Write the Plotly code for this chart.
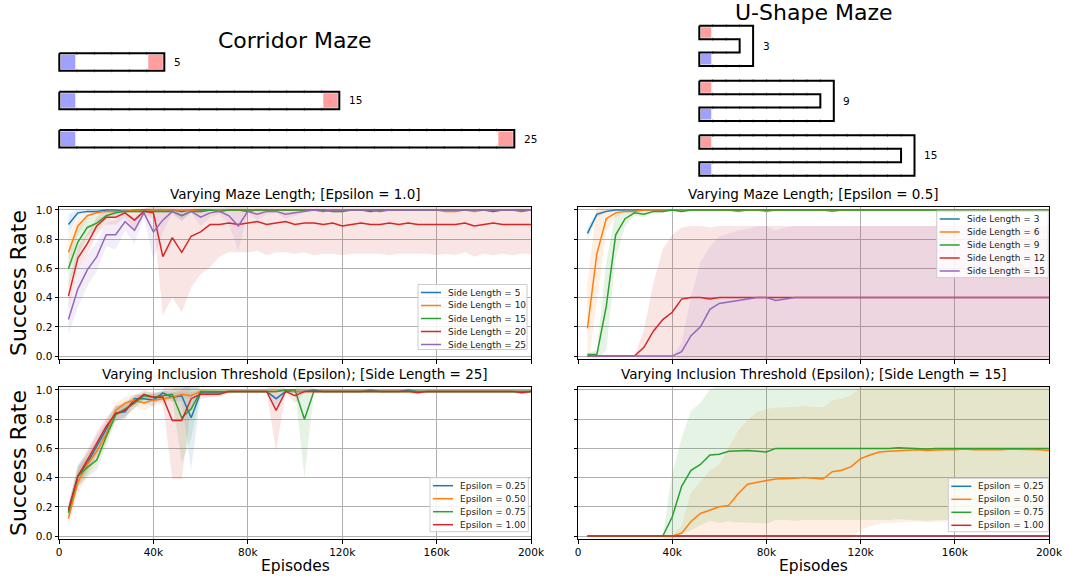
import plotly.graph_objects as go

W, H = 1068, 579
FONT = "DejaVu Sans"

# ---------------- data ----------------
episodes_k = [4, 8, 12, 16, 20, 24, 28, 32, 36, 40,
              44, 48, 52, 56, 60, 64, 68, 72, 76, 80,
              84, 88, 92, 96, 100, 104, 108, 112, 116, 120,
              124, 128, 132, 136, 140, 144, 148, 152, 156, 160,
              164, 168, 172, 176, 180, 184, 188, 192, 196, 200]
episodes = [e * 1000 for e in episodes_k]

x_tick_vals = [0, 40000, 80000, 120000, 160000, 200000]
x_tick_text = ["0", "40k", "80k", "120k", "160k", "200k"]
y_tick_vals = [0.0, 0.2, 0.4, 0.6, 0.8, 1.0]
y_tick_text = ["0.0", "0.2", "0.4", "0.6", "0.8", "1.0"]

corridor_lengths = [5, 15, 25]
ushape_lengths = [3, 9, 15]

# Panel A: Corridor, varying maze length, epsilon = 1.0
corr_labels = ["Side Length = 5", "Side Length = 10", "Side Length = 15",
               "Side Length = 20", "Side Length = 25"]
corr_sl5 = [
    0.90, 0.98, 0.99, 0.99, 1.00, 1.00, 0.99, 1.00, 1.00, 1.00,
    1.00, 1.00, 0.99, 1.00, 1.00, 1.00, 1.00, 1.00, 1.00, 0.99,
    1.00, 1.00, 1.00, 1.00, 1.00, 1.00, 1.00, 1.00, 1.00, 1.00,
    1.00, 1.00, 0.99, 1.00, 1.00, 1.00, 1.00, 1.00, 1.00, 1.00,
    1.00, 1.00, 1.00, 1.00, 1.00, 0.99, 1.00, 1.00, 1.00, 1.00]
corr_sl5_sd = [
    0.07, 0.02, 0.01, 0.01, 0.00, 0.00, 0.01, 0.00, 0.00, 0.00,
    0.00, 0.00, 0.01, 0.00, 0.00, 0.00, 0.00, 0.00, 0.00, 0.01,
    0.00, 0.00, 0.00, 0.00, 0.00, 0.00, 0.00, 0.00, 0.00, 0.00,
    0.00, 0.00, 0.01, 0.00, 0.00, 0.00, 0.00, 0.00, 0.00, 0.00,
    0.00, 0.00, 0.00, 0.00, 0.00, 0.01, 0.00, 0.00, 0.00, 0.00]
corr_sl10 = [
    0.71, 0.89, 0.96, 0.98, 0.99, 0.99, 0.99, 1.00, 0.99, 1.00,
    1.00, 1.00, 1.00, 1.00, 0.99, 1.00, 1.00, 1.00, 1.00, 1.00,
    1.00, 1.00, 1.00, 1.00, 1.00, 1.00, 1.00, 1.00, 1.00, 1.00,
    1.00, 1.00, 1.00, 1.00, 1.00, 1.00, 1.00, 1.00, 1.00, 1.00,
    0.99, 0.99, 1.00, 0.99, 1.00, 1.00, 1.00, 1.00, 1.00, 1.00]
corr_sl10_sd = [
    0.10, 0.06, 0.03, 0.02, 0.01, 0.01, 0.01, 0.00, 0.01, 0.00,
    0.00, 0.00, 0.00, 0.00, 0.01, 0.00, 0.00, 0.00, 0.00, 0.00,
    0.00, 0.00, 0.00, 0.00, 0.00, 0.00, 0.00, 0.00, 0.00, 0.00,
    0.00, 0.00, 0.00, 0.00, 0.00, 0.00, 0.00, 0.00, 0.00, 0.00,
    0.01, 0.01, 0.00, 0.01, 0.00, 0.00, 0.00, 0.00, 0.00, 0.00]
corr_sl15 = [
    0.60, 0.78, 0.88, 0.91, 0.96, 0.98, 0.99, 0.99, 0.99, 0.99,
    0.99, 0.99, 0.96, 0.99, 0.99, 1.00, 0.99, 1.00, 1.00, 1.00,
    1.00, 1.00, 1.00, 1.00, 1.00, 1.00, 1.00, 1.00, 0.99, 0.99,
    1.00, 1.00, 1.00, 1.00, 1.00, 1.00, 1.00, 1.00, 1.00, 1.00,
    1.00, 1.00, 1.00, 1.00, 1.00, 1.00, 1.00, 1.00, 1.00, 1.00]
corr_sl15_sd = [
    0.12, 0.10, 0.06, 0.05, 0.03, 0.02, 0.01, 0.01, 0.01, 0.01,
    0.01, 0.01, 0.03, 0.01, 0.01, 0.00, 0.01, 0.00, 0.00, 0.00,
    0.00, 0.00, 0.00, 0.00, 0.00, 0.00, 0.00, 0.00, 0.01, 0.01,
    0.00, 0.00, 0.00, 0.00, 0.00, 0.00, 0.00, 0.00, 0.00, 0.00,
    0.00, 0.00, 0.00, 0.00, 0.00, 0.00, 0.00, 0.00, 0.00, 0.00]
corr_sl20 = [
    0.41, 0.67, 0.77, 0.89, 0.95, 0.95, 0.98, 0.93, 0.99, 0.98,
    0.68, 0.81, 0.71, 0.82, 0.85, 0.90, 0.90, 0.91, 0.90, 0.91,
    0.92, 0.90, 0.91, 0.92, 0.90, 0.91, 0.91, 0.90, 0.91, 0.89,
    0.90, 0.91, 0.90, 0.90, 0.91, 0.90, 0.91, 0.90, 0.90, 0.90,
    0.90, 0.90, 0.91, 0.89, 0.90, 0.91, 0.90, 0.90, 0.90, 0.90]
corr_sl20_sd = [
    0.08, 0.08, 0.07, 0.06, 0.05, 0.05, 0.03, 0.06, 0.02, 0.04,
    0.40, 0.41, 0.41, 0.35, 0.29, 0.29, 0.22, 0.20, 0.19, 0.20,
    0.20, 0.21, 0.20, 0.21, 0.20, 0.20, 0.22, 0.20, 0.21, 0.20,
    0.20, 0.21, 0.20, 0.20, 0.22, 0.20, 0.21, 0.20, 0.20, 0.21,
    0.20, 0.21, 0.20, 0.21, 0.20, 0.22, 0.20, 0.21, 0.20, 0.20]
corr_sl25 = [
    0.25, 0.46, 0.59, 0.68, 0.83, 0.83, 0.92, 0.86, 0.98, 0.85,
    0.93, 0.99, 0.96, 0.99, 0.95, 0.98, 0.99, 0.96, 0.89, 0.99,
    0.97, 0.99, 0.99, 0.97, 0.98, 0.99, 1.00, 0.99, 1.00, 1.00,
    1.00, 1.00, 1.00, 0.99, 1.00, 1.00, 1.00, 1.00, 1.00, 1.00,
    1.00, 1.00, 1.00, 1.00, 1.00, 1.00, 1.00, 1.00, 0.99, 1.00]
corr_sl25_sd = [
    0.10, 0.13, 0.11, 0.10, 0.08, 0.10, 0.06, 0.09, 0.03, 0.19,
    0.08, 0.02, 0.04, 0.01, 0.06, 0.03, 0.02, 0.06, 0.17, 0.01,
    0.04, 0.02, 0.01, 0.03, 0.02, 0.01, 0.00, 0.01, 0.00, 0.00,
    0.00, 0.00, 0.00, 0.01, 0.00, 0.00, 0.00, 0.00, 0.00, 0.00,
    0.00, 0.00, 0.00, 0.00, 0.00, 0.00, 0.00, 0.00, 0.01, 0.00]

# Panel B: U-shape, varying maze length, epsilon = 0.5
ush_labels = ["Side Length = 3", "Side Length = 6", "Side Length = 9",
              "Side Length = 12", "Side Length = 15"]
ush_sl3 = [
    0.84, 0.97, 0.99, 1.00, 1.00, 1.00, 1.00, 1.00, 1.00, 1.00,
    1.00, 1.00, 1.00, 1.00, 1.00, 1.00, 1.00, 1.00, 1.00, 1.00,
    1.00, 1.00, 1.00, 1.00, 1.00, 1.00, 1.00, 1.00, 1.00, 1.00,
    1.00, 1.00, 1.00, 1.00, 1.00, 1.00, 1.00, 1.00, 1.00, 1.00,
    1.00, 1.00, 1.00, 1.00, 1.00, 1.00, 1.00, 1.00, 1.00, 1.00]
ush_sl3_sd = [
    0.04, 0.02, 0.01, 0.00, 0.00, 0.00, 0.00, 0.00, 0.00, 0.00,
    0.00, 0.00, 0.00, 0.00, 0.00, 0.00, 0.00, 0.00, 0.00, 0.00,
    0.00, 0.00, 0.00, 0.00, 0.00, 0.00, 0.00, 0.00, 0.00, 0.00,
    0.00, 0.00, 0.00, 0.00, 0.00, 0.00, 0.00, 0.00, 0.00, 0.00,
    0.00, 0.00, 0.00, 0.00, 0.00, 0.00, 0.00, 0.00, 0.00, 0.00]
ush_sl6 = [
    0.19, 0.70, 0.94, 0.98, 0.99, 0.99, 1.00, 1.00, 1.00, 1.00,
    1.00, 1.00, 1.00, 1.00, 1.00, 1.00, 0.99, 1.00, 1.00, 0.99,
    1.00, 1.00, 1.00, 1.00, 1.00, 1.00, 0.99, 1.00, 1.00, 1.00,
    1.00, 1.00, 1.00, 1.00, 1.00, 1.00, 1.00, 1.00, 1.00, 1.00,
    1.00, 1.00, 1.00, 1.00, 1.00, 1.00, 1.00, 1.00, 1.00, 1.00]
ush_sl6_sd = [
    0.30, 0.33, 0.08, 0.03, 0.01, 0.01, 0.00, 0.00, 0.00, 0.00,
    0.00, 0.00, 0.00, 0.00, 0.00, 0.00, 0.01, 0.00, 0.00, 0.01,
    0.00, 0.00, 0.00, 0.00, 0.00, 0.00, 0.01, 0.00, 0.00, 0.00,
    0.00, 0.00, 0.00, 0.00, 0.00, 0.00, 0.00, 0.00, 0.00, 0.00,
    0.00, 0.00, 0.00, 0.00, 0.00, 0.00, 0.00, 0.00, 0.00, 0.00]
ush_sl9 = [
    0.01, 0.01, 0.34, 0.83, 0.94, 0.98, 0.97, 0.99, 0.99, 1.00,
    0.99, 1.00, 1.00, 1.00, 1.00, 1.00, 1.00, 1.00, 1.00, 1.00,
    1.00, 1.00, 1.00, 1.00, 1.00, 1.00, 1.00, 1.00, 1.00, 1.00,
    1.00, 1.00, 1.00, 1.00, 1.00, 1.00, 1.00, 1.00, 1.00, 1.00,
    1.00, 1.00, 1.00, 1.00, 1.00, 1.00, 1.00, 1.00, 1.00, 1.00]
ush_sl9_sd = [
    0.01, 0.03, 0.30, 0.16, 0.05, 0.02, 0.02, 0.01, 0.01, 0.00,
    0.01, 0.00, 0.00, 0.00, 0.00, 0.00, 0.00, 0.00, 0.00, 0.00,
    0.00, 0.00, 0.00, 0.00, 0.00, 0.00, 0.00, 0.00, 0.00, 0.00,
    0.00, 0.00, 0.00, 0.00, 0.00, 0.00, 0.00, 0.00, 0.00, 0.00,
    0.00, 0.00, 0.00, 0.00, 0.00, 0.00, 0.00, 0.00, 0.00, 0.00]
ush_sl12 = [
    0.00, 0.00, 0.00, 0.00, 0.00, 0.00, 0.06, 0.17, 0.25, 0.30,
    0.39, 0.40, 0.40, 0.39, 0.40, 0.40, 0.40, 0.40, 0.40, 0.40,
    0.40, 0.40, 0.40, 0.40, 0.40, 0.40, 0.40, 0.40, 0.40, 0.40,
    0.40, 0.40, 0.40, 0.40, 0.40, 0.40, 0.40, 0.40, 0.40, 0.40,
    0.40, 0.40, 0.40, 0.40, 0.40, 0.40, 0.40, 0.40, 0.40, 0.40]
ush_sl12_sd = [
    0.00, 0.00, 0.00, 0.00, 0.00, 0.00, 0.12, 0.33, 0.48, 0.53,
    0.49, 0.49, 0.49, 0.49, 0.49, 0.49, 0.49, 0.49, 0.49, 0.49,
    0.49, 0.49, 0.49, 0.49, 0.49, 0.49, 0.49, 0.49, 0.49, 0.49,
    0.49, 0.49, 0.49, 0.49, 0.49, 0.49, 0.49, 0.49, 0.49, 0.49,
    0.49, 0.49, 0.49, 0.49, 0.49, 0.49, 0.49, 0.49, 0.49, 0.49]
ush_sl15 = [
    0.00, 0.00, 0.00, 0.00, 0.00, 0.00, 0.00, 0.00, 0.00, 0.00,
    0.03, 0.14, 0.20, 0.32, 0.36, 0.37, 0.38, 0.39, 0.40, 0.40,
    0.38, 0.39, 0.40, 0.40, 0.40, 0.40, 0.40, 0.40, 0.40, 0.40,
    0.40, 0.40, 0.40, 0.40, 0.40, 0.40, 0.40, 0.40, 0.40, 0.40,
    0.40, 0.40, 0.40, 0.40, 0.40, 0.40, 0.40, 0.40, 0.40, 0.40]
ush_sl15_sd = [
    0.00, 0.00, 0.00, 0.00, 0.00, 0.00, 0.00, 0.00, 0.00, 0.00,
    0.06, 0.27, 0.44, 0.43, 0.46, 0.47, 0.48, 0.48, 0.49, 0.49,
    0.48, 0.49, 0.49, 0.49, 0.49, 0.49, 0.49, 0.49, 0.49, 0.49,
    0.49, 0.49, 0.49, 0.49, 0.49, 0.49, 0.49, 0.49, 0.49, 0.49,
    0.49, 0.49, 0.49, 0.49, 0.49, 0.49, 0.49, 0.49, 0.49, 0.49]

# Panel C: Corridor, side length 25, varying epsilon
eps_labels = ["Epsilon = 0.25", "Epsilon = 0.50", "Epsilon = 0.75", "Epsilon = 1.00"]
ce_e025 = [
    0.17, 0.41, 0.50, 0.62, 0.73, 0.84, 0.85, 0.94, 0.94, 0.93,
    0.98, 0.95, 0.96, 0.81, 0.98, 0.98, 0.98, 0.99, 0.99, 0.99,
    0.99, 0.99, 0.94, 0.99, 0.99, 0.99, 1.00, 0.99, 0.99, 0.99,
    0.99, 0.99, 1.00, 0.99, 0.99, 0.99, 1.00, 0.99, 0.99, 0.99,
    0.99, 0.99, 0.99, 0.99, 0.99, 0.99, 0.99, 0.99, 0.99, 0.99]
ce_e025_sd = [
    0.05, 0.08, 0.07, 0.07, 0.06, 0.05, 0.05, 0.03, 0.03, 0.04,
    0.02, 0.03, 0.04, 0.35, 0.02, 0.02, 0.01, 0.01, 0.01, 0.01,
    0.01, 0.01, 0.05, 0.01, 0.01, 0.01, 0.00, 0.01, 0.01, 0.01,
    0.01, 0.01, 0.00, 0.01, 0.01, 0.01, 0.00, 0.01, 0.01, 0.01,
    0.01, 0.01, 0.01, 0.01, 0.01, 0.01, 0.01, 0.01, 0.01, 0.01]
ce_e050 = [
    0.12, 0.37, 0.49, 0.58, 0.70, 0.86, 0.91, 0.93, 0.91, 0.93,
    0.94, 0.95, 0.97, 0.96, 0.99, 0.99, 0.99, 0.99, 0.99, 0.99,
    0.99, 0.99, 0.99, 1.00, 0.99, 0.99, 0.99, 0.99, 0.99, 0.99,
    0.99, 0.99, 0.99, 0.99, 0.99, 0.99, 0.99, 0.99, 0.99, 0.99,
    0.99, 0.99, 0.99, 0.99, 0.99, 0.99, 0.99, 0.99, 0.99, 0.99]
ce_e050_sd = [
    0.04, 0.08, 0.08, 0.08, 0.07, 0.05, 0.04, 0.04, 0.05, 0.04,
    0.03, 0.03, 0.02, 0.02, 0.01, 0.01, 0.01, 0.01, 0.01, 0.01,
    0.01, 0.01, 0.01, 0.00, 0.01, 0.01, 0.01, 0.01, 0.01, 0.01,
    0.01, 0.01, 0.01, 0.01, 0.01, 0.01, 0.01, 0.01, 0.01, 0.01,
    0.01, 0.01, 0.01, 0.01, 0.01, 0.01, 0.01, 0.01, 0.01, 0.01]
ce_e075 = [
    0.16, 0.41, 0.47, 0.52, 0.68, 0.83, 0.87, 0.91, 0.96, 0.95,
    0.96, 0.97, 0.81, 0.87, 0.99, 0.99, 0.99, 0.99, 0.99, 0.99,
    0.99, 0.99, 0.99, 1.00, 1.00, 0.80, 0.99, 0.99, 0.99, 0.99,
    0.99, 0.99, 0.99, 0.99, 0.99, 0.99, 0.99, 0.99, 0.99, 0.99,
    0.99, 0.99, 0.99, 0.99, 0.99, 0.99, 0.99, 0.99, 0.99, 0.99]
ce_e075_sd = [
    0.04, 0.07, 0.07, 0.07, 0.06, 0.05, 0.05, 0.04, 0.03, 0.03,
    0.03, 0.03, 0.31, 0.20, 0.01, 0.01, 0.01, 0.01, 0.01, 0.01,
    0.01, 0.01, 0.01, 0.00, 0.00, 0.40, 0.01, 0.01, 0.01, 0.01,
    0.01, 0.01, 0.01, 0.01, 0.01, 0.01, 0.01, 0.01, 0.01, 0.01,
    0.01, 0.01, 0.01, 0.01, 0.01, 0.01, 0.01, 0.01, 0.01, 0.01]
ce_e100 = [
    0.18, 0.41, 0.52, 0.64, 0.75, 0.84, 0.86, 0.92, 0.97, 0.95,
    0.95, 0.79, 0.79, 0.94, 0.97, 0.97, 0.97, 0.99, 0.99, 0.99,
    0.99, 0.99, 0.86, 0.99, 0.96, 0.99, 0.99, 0.99, 0.99, 0.99,
    0.99, 0.99, 0.99, 0.99, 0.99, 0.99, 0.99, 0.98, 0.99, 0.99,
    0.99, 0.99, 0.99, 0.99, 0.99, 0.99, 0.99, 0.99, 0.98, 0.99]
ce_e100_sd = [
    0.04, 0.06, 0.07, 0.07, 0.06, 0.05, 0.05, 0.04, 0.03, 0.03,
    0.04, 0.40, 0.40, 0.05, 0.03, 0.02, 0.02, 0.01, 0.01, 0.01,
    0.01, 0.01, 0.28, 0.01, 0.05, 0.01, 0.01, 0.01, 0.01, 0.01,
    0.01, 0.01, 0.01, 0.01, 0.01, 0.01, 0.01, 0.01, 0.01, 0.01,
    0.01, 0.01, 0.01, 0.01, 0.01, 0.01, 0.01, 0.01, 0.01, 0.01]

# Panel D: U-shape, side length 15, varying epsilon
ue_e025 = [
    0.00, 0.00, 0.00, 0.00, 0.00, 0.00, 0.00, 0.00, 0.00, 0.00,
    0.00, 0.00, 0.00, 0.00, 0.00, 0.00, 0.00, 0.00, 0.00, 0.00,
    0.00, 0.00, 0.00, 0.00, 0.00, 0.00, 0.00, 0.00, 0.00, 0.00,
    0.00, 0.00, 0.00, 0.00, 0.00, 0.00, 0.00, 0.00, 0.00, 0.00,
    0.00, 0.00, 0.00, 0.00, 0.00, 0.00, 0.00, 0.00, 0.00, 0.00]
ue_e025_sd = [
    0.00, 0.00, 0.00, 0.00, 0.00, 0.00, 0.00, 0.00, 0.00, 0.00,
    0.00, 0.00, 0.00, 0.00, 0.00, 0.00, 0.00, 0.00, 0.00, 0.00,
    0.00, 0.00, 0.00, 0.00, 0.00, 0.00, 0.00, 0.00, 0.00, 0.00,
    0.00, 0.00, 0.00, 0.00, 0.00, 0.00, 0.00, 0.00, 0.00, 0.00,
    0.00, 0.00, 0.00, 0.00, 0.00, 0.00, 0.00, 0.00, 0.00, 0.00]
ue_e050 = [
    0.00, 0.00, 0.00, 0.00, 0.00, 0.00, 0.00, 0.00, 0.00, 0.00,
    0.02, 0.10, 0.155, 0.18, 0.20, 0.21, 0.29, 0.355, 0.37, 0.38,
    0.39, 0.39, 0.395, 0.40, 0.395, 0.39, 0.44, 0.45, 0.475, 0.53,
    0.555, 0.575, 0.58, 0.585, 0.59, 0.59, 0.585, 0.59, 0.59, 0.59,
    0.595, 0.59, 0.59, 0.585, 0.59, 0.595, 0.595, 0.59, 0.59, 0.585]
ue_e050_sd = [
    0.00, 0.00, 0.00, 0.00, 0.00, 0.00, 0.00, 0.00, 0.00, 0.00,
    0.05, 0.20, 0.22, 0.27, 0.29, 0.39, 0.43, 0.44, 0.48, 0.49,
    0.49, 0.49, 0.49, 0.49, 0.49, 0.49, 0.49, 0.49, 0.49, 0.49,
    0.49, 0.49, 0.49, 0.49, 0.49, 0.49, 0.49, 0.49, 0.49, 0.49,
    0.49, 0.49, 0.49, 0.49, 0.49, 0.49, 0.49, 0.49, 0.49, 0.49]
ue_e075 = [
    0.00, 0.00, 0.00, 0.00, 0.00, 0.00, 0.00, 0.00, 0.00, 0.13,
    0.34, 0.45, 0.49, 0.555, 0.56, 0.58, 0.585, 0.585, 0.58, 0.575,
    0.60, 0.60, 0.595, 0.60, 0.60, 0.60, 0.60, 0.60, 0.595, 0.60,
    0.60, 0.60, 0.60, 0.605, 0.60, 0.595, 0.595, 0.60, 0.60, 0.60,
    0.60, 0.60, 0.60, 0.60, 0.60, 0.60, 0.595, 0.60, 0.595, 0.60]
ue_e075_sd = [
    0.00, 0.00, 0.00, 0.00, 0.00, 0.00, 0.00, 0.00, 0.00, 0.30,
    0.33, 0.41, 0.42, 0.45, 0.47, 0.48, 0.49, 0.49, 0.49, 0.49,
    0.49, 0.49, 0.49, 0.49, 0.49, 0.49, 0.49, 0.49, 0.49, 0.49,
    0.49, 0.49, 0.49, 0.49, 0.49, 0.49, 0.49, 0.49, 0.49, 0.49,
    0.49, 0.49, 0.49, 0.49, 0.49, 0.49, 0.49, 0.49, 0.49, 0.49]
ue_e100 = [
    0.00, 0.00, 0.00, 0.00, 0.00, 0.00, 0.00, 0.00, 0.00, 0.00,
    0.00, 0.00, 0.00, 0.00, 0.00, 0.00, 0.00, 0.00, 0.00, 0.00,
    0.00, 0.00, 0.00, 0.00, 0.00, 0.00, 0.00, 0.00, 0.00, 0.00,
    0.00, 0.00, 0.00, 0.00, 0.00, 0.00, 0.00, 0.00, 0.00, 0.00,
    0.00, 0.00, 0.00, 0.00, 0.00, 0.00, 0.00, 0.00, 0.00, 0.00]
ue_e100_sd = [
    0.00, 0.00, 0.00, 0.00, 0.00, 0.00, 0.00, 0.00, 0.00, 0.00,
    0.00, 0.00, 0.00, 0.00, 0.00, 0.00, 0.00, 0.00, 0.00, 0.00,
    0.00, 0.00, 0.00, 0.00, 0.00, 0.00, 0.00, 0.00, 0.00, 0.00,
    0.00, 0.00, 0.00, 0.00, 0.00, 0.00, 0.00, 0.00, 0.00, 0.00,
    0.00, 0.00, 0.00, 0.00, 0.00, 0.00, 0.00, 0.00, 0.00, 0.00]

# ---------------- styles ----------------
C_BLUE, C_ORANGE, C_GREEN, C_RED, C_PURPLE = "#1f77b4", "#ff7f0e", "#2ca02c", "#d62728", "#9467bd"
FILL_ALPHA = 0.12


def rgba(h, a):
    h = h.lstrip("#")
    return "rgba(%d,%d,%d,%s)" % (int(h[0:2], 16), int(h[2:4], 16), int(h[4:6], 16), a)


def px_x(px):
    return px / W


def px_y(py):
    return 1 - py / H


panels = [
    dict(xa="x", ya="y", xpx=(59, 531), ypx=(207, 359), xlabels=False, ylabels=True,
         title="Varying Maze Length; [Epsilon = 1.0]",
         series=[(corr_labels[0], corr_sl5, corr_sl5_sd, C_BLUE),
                 (corr_labels[1], corr_sl10, corr_sl10_sd, C_ORANGE),
                 (corr_labels[2], corr_sl15, corr_sl15_sd, C_GREEN),
                 (corr_labels[3], corr_sl20, corr_sl20_sd, C_RED),
                 (corr_labels[4], corr_sl25, corr_sl25_sd, C_PURPLE)],
         legend_box=(418, 284.5, 527, 349.5)),
    dict(xa="x2", ya="y2", xpx=(578, 1049), ypx=(207, 359), xlabels=False, ylabels=False,
         title="Varying Maze Length; [Epsilon = 0.5]",
         series=[(ush_labels[0], ush_sl3, ush_sl3_sd, C_BLUE),
                 (ush_labels[1], ush_sl6, ush_sl6_sd, C_ORANGE),
                 (ush_labels[2], ush_sl9, ush_sl9_sd, C_GREEN),
                 (ush_labels[3], ush_sl12, ush_sl12_sd, C_RED),
                 (ush_labels[4], ush_sl15, ush_sl15_sd, C_PURPLE)],
         legend_box=(936.7, 211, 1048.3, 277.7)),
    dict(xa="x3", ya="y3", xpx=(59, 531), ypx=(387, 539), xlabels=True, ylabels=True,
         title="Varying Inclusion Threshold (Epsilon); [Side Length = 25]",
         series=[(eps_labels[0], ce_e025, ce_e025_sd, C_BLUE),
                 (eps_labels[1], ce_e050, ce_e050_sd, C_ORANGE),
                 (eps_labels[2], ce_e075, ce_e075_sd, C_GREEN),
                 (eps_labels[3], ce_e100, ce_e100_sd, C_RED)],
         legend_box=(430, 477.7, 528.3, 531.7)),
    dict(xa="x4", ya="y4", xpx=(578, 1049), ypx=(387, 539), xlabels=True, ylabels=False,
         title="Varying Inclusion Threshold (Epsilon); [Side Length = 15]",
         series=[(eps_labels[0], ue_e025, ue_e025_sd, C_BLUE),
                 (eps_labels[1], ue_e050, ue_e050_sd, C_ORANGE),
                 (eps_labels[2], ue_e075, ue_e075_sd, C_GREEN),
                 (eps_labels[3], ue_e100, ue_e100_sd, C_RED)],
         legend_box=(948.3, 478.3, 1048.3, 531.7)),
]

for p in panels:
    for s in p["series"]:
        assert len(s[1]) == len(episodes) and len(s[2]) == len(episodes), s[0]

fig = go.Figure()
shapes = []
annotations = []

for p in panels:
    # bands
    for label, mean, sd, color in p["series"]:
        lo = [m - s for m, s in zip(mean, sd)]
        hi = [m + s for m, s in zip(mean, sd)]
        fig.add_trace(go.Scatter(x=episodes, y=lo, mode="lines", line=dict(width=0, color=color),
                                 xaxis=p["xa"], yaxis=p["ya"], hoverinfo="skip", showlegend=False))
        fig.add_trace(go.Scatter(x=episodes, y=hi, mode="lines", line=dict(width=0, color=color),
                                 fill="tonexty", fillcolor=rgba(color, FILL_ALPHA),
                                 xaxis=p["xa"], yaxis=p["ya"], hoverinfo="skip", showlegend=False))
    # mean lines
    for label, mean, sd, color in p["series"]:
        fig.add_trace(go.Scatter(x=episodes, y=mean, mode="lines", name=label,
                                 line=dict(width=1.5, color=color),
                                 xaxis=p["xa"], yaxis=p["ya"], showlegend=False))

    # subplot title
    cx = (p["xpx"][0] + p["xpx"][1]) / 2
    annotations.append(dict(text=p["title"], x=px_x(cx), y=px_y(p["ypx"][0] - 13),
                            xref="paper", yref="paper", showarrow=False,
                            xanchor="center", yanchor="middle",
                            font=dict(family=FONT, size=13.5, color="black")))
    if p["ylabels"]:
        cy = (p["ypx"][0] + p["ypx"][1]) / 2
        annotations.append(dict(text="Success Rate", x=px_x(18), y=px_y(cy),
                                xref="paper", yref="paper", showarrow=False, textangle=-90,
                                xanchor="center", yanchor="middle",
                                font=dict(family=FONT, size=22, color="black")))
    if p["xlabels"]:
        annotations.append(dict(text="Episodes", x=px_x(cx), y=px_y(566),
                                xref="paper", yref="paper", showarrow=False,
                                xanchor="center", yanchor="middle",
                                font=dict(family=FONT, size=15.5, color="black")))

    # legend (matplotlib-like compact box)
    bx0, by0, bx1, by1 = p["legend_box"]
    shapes.append(dict(type="rect", xref="paper", yref="paper",
                       x0=px_x(bx0), x1=px_x(bx1), y0=px_y(by1), y1=px_y(by0),
                       fillcolor="rgba(255,255,255,0.85)", line=dict(color="#cccccc", width=1),
                       layer="above"))
    for k, (label, mean, sd, color) in enumerate(p["series"]):
        ry = by0 + 8 + 13 * k
        shapes.append(dict(type="line", xref="paper", yref="paper",
                           x0=px_x(bx0 + 3), x1=px_x(bx0 + 23), y0=px_y(ry), y1=px_y(ry),
                           line=dict(color=color, width=1.5), layer="above"))
        annotations.append(dict(text=label, x=px_x(bx0 + 28), y=px_y(ry),
                                xref="paper", yref="paper", showarrow=False,
                                xanchor="left", yanchor="middle",
                                font=dict(family=FONT, size=9, color="#222222")))

# ---------------- maze diagrams (pixel-scaled hidden axis) ----------------
TOP_H = 180
CORR_X0, CORR_CELL = 59.3, 17.5
CORR_TOPS = [53.3, 91.7, 130.0]
U_X0, U_CELL = 699.3, 13.45
U_TOPS = [25.7, 80.7, 135.3]
START_COLOR = "#a0a0ff"
GOAL_COLOR = "#ff9e9e"
INSET = 1.5


def cell_poly(xs, ys, col, row, x0, y0, c):
    a, b = x0 + col * c + INSET, x0 + (col + 1) * c - INSET
    t, u = y0 + row * c + INSET, y0 + (row + 1) * c - INSET
    xs += [a, b, b, a, a, None]
    ys += [t, t, u, u, t, None]


def add_tick(xs, ys, x, y):
    xs += [x, x, None]
    ys += [y - 1.5, y + 1.5, None]


start_x, start_y, goal_x, goal_y = [], [], [], []
out_x, out_y, tick_x, tick_y = [], [], [], []

for L, top in zip(corridor_lengths, CORR_TOPS):
    c = CORR_CELL
    x0, x1 = CORR_X0, CORR_X0 + (L + 1) * c
    y0, y1 = top, top + c
    cell_poly(start_x, start_y, 0, 0, x0, y0, c)
    cell_poly(goal_x, goal_y, L, 0, x0, y0, c)
    out_x += [x0, x1, x1, x0, x0, None]
    out_y += [y0, y0, y1, y1, y0, None]
    for k in range(1, L + 1):
        add_tick(tick_x, tick_y, x0 + k * c, y0)
        add_tick(tick_x, tick_y, x0 + k * c, y1)
    annotations.append(dict(text=str(L), x=x1 + 7.5, y=(y0 + y1) / 2, xref="x5", yref="y5",
                            showarrow=False, xanchor="left", yanchor="middle",
                            font=dict(family=FONT, size=10.5, color="black")))

for L, top in zip(ushape_lengths, U_TOPS):
    c = U_CELL
    x0, x1, xin = U_X0, U_X0 + (L + 1) * c, U_X0 + L * c
    y0 = top
    cell_poly(goal_x, goal_y, 0, 0, x0, y0, c)
    cell_poly(start_x, start_y, 0, 2, x0, y0, c)
    out_x += [x0, x1, x1, x0, x0, xin, xin, x0, x0, None]
    out_y += [y0, y0, y0 + 3 * c, y0 + 3 * c, y0 + 2 * c, y0 + 2 * c, y0 + c, y0 + c, y0, None]
    for k in range(1, L + 1):
        add_tick(tick_x, tick_y, x0 + k * c, y0)
        add_tick(tick_x, tick_y, x0 + k * c, y0 + 3 * c)
    for k in range(1, L):
        add_tick(tick_x, tick_y, x0 + k * c, y0 + c)
        add_tick(tick_x, tick_y, x0 + k * c, y0 + 2 * c)
    annotations.append(dict(text=str(L), x=x1 + 7.5, y=y0 + 1.5 * c, xref="x5", yref="y5",
                            showarrow=False, xanchor="left", yanchor="middle",
                            font=dict(family=FONT, size=10.5, color="black")))

fig.add_trace(go.Scatter(x=start_x, y=start_y, mode="lines", fill="toself", fillcolor=START_COLOR,
                         line=dict(width=0, color=START_COLOR), xaxis="x5", yaxis="y5",
                         hoverinfo="skip", showlegend=False))
fig.add_trace(go.Scatter(x=goal_x, y=goal_y, mode="lines", fill="toself", fillcolor=GOAL_COLOR,
                         line=dict(width=0, color=GOAL_COLOR), xaxis="x5", yaxis="y5",
                         hoverinfo="skip", showlegend=False))
fig.add_trace(go.Scatter(x=tick_x, y=tick_y, mode="lines", line=dict(width=1, color="#777777"),
                         xaxis="x5", yaxis="y5", hoverinfo="skip", showlegend=False))
fig.add_trace(go.Scatter(x=out_x, y=out_y, mode="lines", line=dict(width=2, color="black"),
                         xaxis="x5", yaxis="y5", hoverinfo="skip", showlegend=False))

annotations.append(dict(text="Corridor Maze", x=295, y=40, xref="x5", yref="y5", showarrow=False,
                        xanchor="center", yanchor="middle",
                        font=dict(family=FONT, size=22, color="black")))
annotations.append(dict(text="U-Shape Maze", x=813, y=12.5, xref="x5", yref="y5", showarrow=False,
                        xanchor="center", yanchor="middle",
                        font=dict(family=FONT, size=22, color="black")))

# ---------------- layout ----------------
def axis_common():
    return dict(showline=True, linecolor="black", linewidth=1, mirror=True,
                ticks="outside", ticklen=3.5, tickwidth=1, tickcolor="black",
                showgrid=True, gridcolor="#b0b0b0", gridwidth=1, zeroline=False,
                automargin=False,
                tickfont=dict(family=FONT, size=10.5, color="black"), fixedrange=True)


layout = dict(width=W, height=H, autosize=False,
              margin=dict(l=0, r=0, t=0, b=0, pad=0, autoexpand=False),
              paper_bgcolor="white", plot_bgcolor="white", showlegend=False,
              font=dict(family=FONT, color="black"),
              shapes=shapes, annotations=annotations)

for i, p in enumerate(panels):
    sfx = "" if i == 0 else str(i + 1)
    xa = axis_common()
    xa.update(domain=[px_x(p["xpx"][0]), px_x(p["xpx"][1])], range=[0, 200000],
              tickvals=x_tick_vals, ticktext=x_tick_text, showticklabels=p["xlabels"],
              anchor="y" + sfx)
    ya = axis_common()
    ya.update(domain=[px_y(p["ypx"][1]), px_y(p["ypx"][0])], range=[-0.02, 1.02],
              tickvals=y_tick_vals, ticktext=y_tick_text, showticklabels=p["ylabels"],
              anchor="x" + sfx)
    layout["xaxis" + sfx] = xa
    layout["yaxis" + sfx] = ya

layout["xaxis5"] = dict(domain=[0, 1], range=[0, W], visible=False, fixedrange=True,
                        automargin=False, anchor="y5")
layout["yaxis5"] = dict(domain=[px_y(TOP_H), 1], range=[TOP_H, 0], visible=False, fixedrange=True,
                        automargin=False, anchor="x5")

fig.update_layout(**layout)
fig.write_html("out.html",
               config={"responsive": False, "displayModeBar": False},
               post_script="document.body.style.margin='0';document.body.style.overflow='hidden';")
